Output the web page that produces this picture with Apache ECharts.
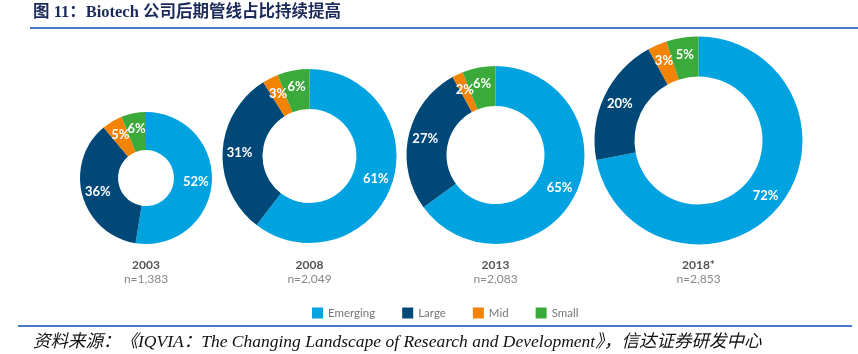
<!DOCTYPE html>
<html>
<head>
<meta charset="utf-8">
<script src="https://cdn.jsdelivr.net/npm/echarts@6/dist/echarts.min.js"></script>
<style>
html,body{margin:0;padding:0;background:#fff;}
#c{width:858px;height:354px;}
</style>
</head>
<body>
<div id="c"></div>
<script>
const categories = ['Emerging', 'Large', 'Mid', 'Small'];
const years = ['2003', '2008', '2013', '2018*'];
const counts = ['n=1,383', 'n=2,049', 'n=2,083', 'n=2,853'];
const share2003 = [52, 36, 5, 6];
const share2008 = [61, 31, 3, 6];
const share2013 = [65, 27, 2, 6];
const share2018 = [72, 20, 3, 5];
const shares = [share2003, share2008, share2013, share2018];

const colors = ['#00A3E0', '#004877', '#F28305', '#3AAA3A'];
const layout = [
  {c: [146, 178], r: [28, 66]},
  {c: [309.5, 156], r: [47, 87]},
  {c: [495.5, 155], r: [49, 89]},
  {c: [698.5, 140.5], r: [64, 104]}
];

const series = shares.map((vals, i) => ({
  type: 'pie',
  center: layout[i].c,
  radius: layout[i].r,
  startAngle: 90,
  clockwise: true,
  silent: true,
  avoidLabelOverlap: false,
  labelLayout: {hideOverlap: false},
  label: {
    show: true,
    position: 'inside',
    formatter: '{c}%',
    color: '#fff',
    fontFamily: 'Lato',
    fontWeight: 'bold',
    fontSize: 13,
    overflow: 'none'
  },
  labelLine: {show: false},
  itemStyle: {borderWidth: 0},
  data: categories.map((n, k) => ({name: n, value: vals[k]}))
}));

const graphics = [
  {type: 'text', left: 33, top: 4, style: {text: '图 11：Biotech 公司后期管线占比持续提高', font: 'bold 16.5px "Liberation Serif", "Noto Sans CJK SC"', fill: '#1d2b5c'}},
  {type: 'line', shape: {x1: 30, y1: 28, x2: 858, y2: 28}, style: {stroke: '#4a78c8', lineWidth: 2}},
  {type: 'line', shape: {x1: 18, y1: 326, x2: 852, y2: 326}, style: {stroke: '#4a78c8', lineWidth: 2}},
  {type: 'text', left: 33, top: 334, style: {text: '资料来源：《IQVIA：The Changing Landscape of Research and Development》，信达证券研发中心', font: 'italic 17.5px "Liberation Serif", "Noto Sans CJK SC"', fill: '#111'}}
];
years.forEach((y, i) => {
  graphics.push({type: 'text', x: layout[i].c[0], y: 265, style: {text: y, font: 'bold 12px Lato', fill: '#555', align: 'center', verticalAlign: 'middle'}});
  graphics.push({type: 'text', x: layout[i].c[0], y: 279, style: {text: counts[i], font: '12px Lato', fill: '#888', align: 'center', verticalAlign: 'middle'}});
});

const chart = echarts.init(document.getElementById('c'));
chart.setOption({
  animation: false,
  color: colors,
  legend: {
    data: categories,
    left: 312,
    top: 307,
    padding: 0,
    icon: 'rect',
    itemWidth: 11,
    itemHeight: 11,
    itemGap: 27,
    textStyle: {color: '#777', fontFamily: 'Lato', fontSize: 11.5}
  },
  series: series,
  graphic: graphics
});
</script>
</body>
</html>
